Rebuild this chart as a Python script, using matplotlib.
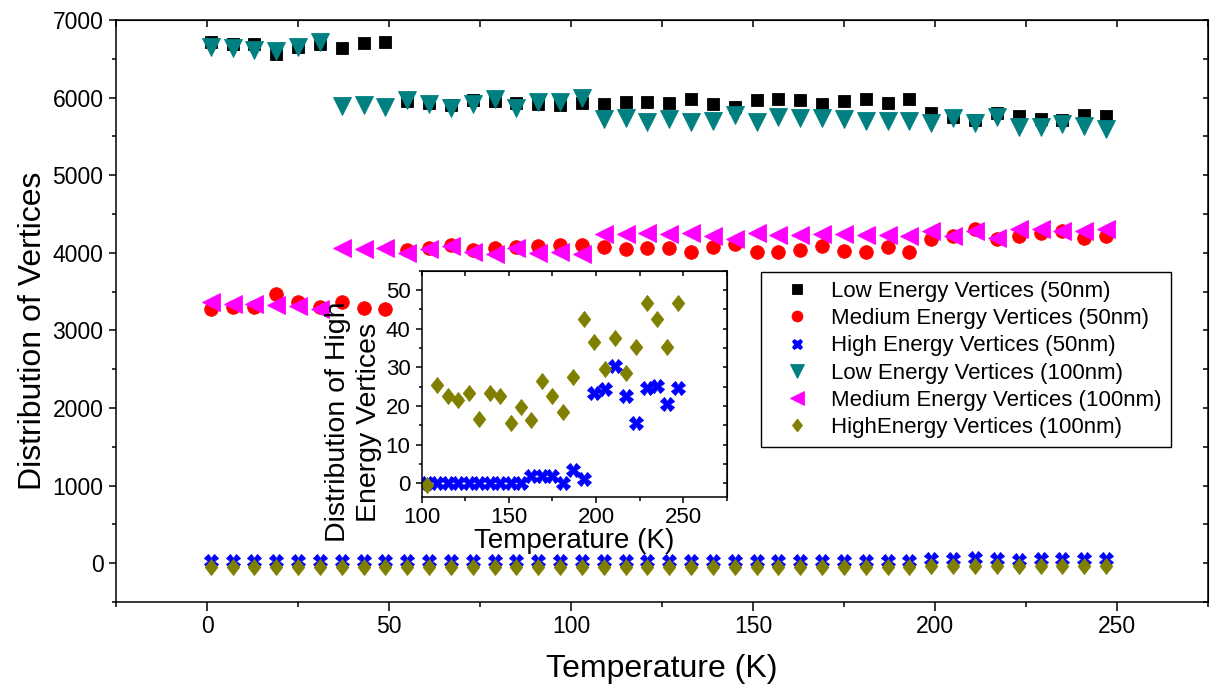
import matplotlib
matplotlib.use("Agg")
import matplotlib.pyplot as plt
from matplotlib.ticker import MultipleLocator
from matplotlib.path import Path

plt.rcParams['font.family'] = ['Liberation Sans', 'DejaVu Sans']

# ---- data -------------------------------------------------------------
temps = [1, 7, 13, 19, 25, 31, 37, 43, 49, 55, 61, 67, 73, 79, 85, 91, 97,
         103, 109, 115, 121, 127, 133, 139, 145, 151, 157, 163, 169, 175,
         181, 187, 193, 199, 205, 211, 217, 223, 229, 235, 241, 247]

low_50nm = [6720, 6695, 6690, 6560, 6655, 6695, 6640, 6700, 6715,
            5955, 5930, 5900, 5970, 5950, 5925, 5920, 5905, 5930,
            5915, 5940, 5940, 5930, 5985, 5920, 5880, 5975, 5985, 5975,
            5915, 5960, 5985, 5930, 5985, 5800, 5745, 5705, 5805, 5765,
            5720, 5710, 5780, 5760]

med_50nm = [3275, 3305, 3305, 3465, 3360, 3305, 3360, 3295, 3275,
            4035, 4065, 4100, 4040, 4060, 4070, 4090, 4100, 4100,
            4070, 4045, 4060, 4060, 4015, 4070, 4110, 4015, 4005, 4035,
            4090, 4025, 4015, 4070, 4005, 4175, 4220, 4305, 4175, 4220,
            4250, 4280, 4195, 4220]

high_50nm = [30, 30, 30, 30, 30, 30, 30, 30, 30, 30, 30, 30, 30, 30,
             30, 30, 30, 30, 30, 30, 30, 30, 30, 30, 30, 30, 30, 32,
             32, 32, 30, 34, 31, 55, 55, 65, 55, 45, 55, 55, 50, 55]

low_100nm = [6655, 6645, 6610, 6600, 6655, 6720,
             5890, 5910, 5880, 5970, 5915, 5865, 5920, 5980, 5870,
             5940, 5940, 5995,
             5720, 5740, 5685, 5725, 5685, 5700, 5770, 5685, 5745, 5740,
             5740, 5720, 5700, 5695, 5695, 5670, 5740, 5675, 5750, 5625,
             5615, 5655, 5640, 5600]

med_100nm = [3360, 3335, 3335, 3330, 3315, 3275,
             4065, 4045, 4065, 3995, 4050, 4090, 4010, 3990, 4060,
             4000, 4005, 3980,
             4240, 4240, 4260, 4240, 4260, 4220, 4175, 4260, 4230, 4230,
             4240, 4240, 4230, 4230, 4220, 4275, 4220, 4275, 4195, 4305,
             4305, 4280, 4280, 4305]

high_100nm = [-45, -45, -45, -45, -45, -45, -45, -45, -45, -45, -45,
              -45, -45, -45, -45, -45, -45, -45, -45, -45, -45, -45,
              -45, -45, -45, -45, -45, -45, -45, -45, -45, -45, -45,
              -40, -40, -40, -40, -40, -40, -40, -40, -40]

# high-energy vertices shown in the inset
inset_temps = [103, 109, 115, 121, 127, 133, 139, 145, 151, 157, 163, 169,
               175, 181, 187, 193, 199, 205, 211, 217, 223, 229, 235, 241,
               247]
inset_high_50nm = [0, 0, 0, 0, 0, 0, 0, 0, 0, 0, 2, 2, 2, 0, 3.5, 1,
                   23.4, 24.3, 30.3, 22.6, 15.5, 24.6, 25.2, 20.5, 24.6]
inset_high_100nm = [-0.5, 25.4, 22.6, 21.5, 23.4, 16.5, 23.4, 22.6, 15.5,
                    19.6, 16.4, 26.5, 22.6, 18.4, 27.6, 42.5, 36.6, 29.5,
                    37.5, 28.4, 35.3, 46.7, 42.4, 35.3, 46.7]

labels = ["Low Energy Vertices (50nm)",
          "Medium Energy Vertices (50nm)",
          "High Energy Vertices (50nm)",
          "Low Energy Vertices (100nm)",
          "Medium Energy Vertices (100nm)",
          "HighEnergy Vertices (100nm)"]

# ---- styles -----------------------------------------------------------
diamond = Path([(0, 1), (0.78, 0), (0, -1), (-0.78, 0), (0, 1)],
               [Path.MOVETO, Path.LINETO, Path.LINETO, Path.LINETO,
                Path.CLOSEPOLY])

BLACK, RED, BLUE = "#000000", "#FF0000", "#0000FF"
TEAL, MAGENTA, OLIVE = "#008080", "#FF00FF", "#808000"


def style_axes(a, xmaj, xmin, ymaj, ymin, fs, lens):
    a.xaxis.set_major_locator(MultipleLocator(xmaj))
    a.xaxis.set_minor_locator(MultipleLocator(xmin))
    a.yaxis.set_major_locator(MultipleLocator(ymaj))
    a.yaxis.set_minor_locator(MultipleLocator(ymin))
    for s in a.spines.values():
        s.set_linewidth(1.1)
    a.tick_params(axis='x', which='major', direction='out', length=lens[0],
                  width=1.1, labelsize=fs, pad=3)
    a.tick_params(axis='x', which='minor', direction='out', length=lens[1],
                  width=1.1)
    a.tick_params(axis='y', which='major', direction='out', length=lens[2],
                  width=1.1, labelsize=fs, pad=4)
    a.tick_params(axis='y', which='minor', direction='out', length=lens[3],
                  width=1.1)
    # inward ticks on the top and right sides
    top = a.secondary_xaxis('top')
    top.xaxis.set_major_locator(MultipleLocator(xmaj))
    top.xaxis.set_minor_locator(MultipleLocator(xmin))
    top.tick_params(which='both', direction='in', length=lens[4], width=1.1,
                    labeltop=False)
    right = a.secondary_yaxis('right')
    right.yaxis.set_major_locator(MultipleLocator(ymaj))
    right.yaxis.set_minor_locator(MultipleLocator(ymin))
    right.tick_params(which='both', direction='in', length=lens[5],
                      width=1.1, labelright=False)


fig = plt.figure(figsize=(12.1, 6.96), dpi=100)

# ---- main axes --------------------------------------------------------
ax = fig.add_axes([0.0959, 0.135, 0.9024, 0.8363])
ax.set_xlim(-25, 275)
ax.set_ylim(-500, 7000)
style_axes(ax, 50, 25, 1000, 500, 16.5, (6.5, 3.6, 5, 3, 5, 3.5))

kw = dict(ls='none', markeredgewidth=0.6)
ax.plot(temps, low_50nm, marker='s', ms=9.3, color=BLACK, label=labels[0], **kw)
ax.plot(temps, med_50nm, marker='o', ms=9.8, color=RED, label=labels[1], **kw)
ax.plot(temps, high_50nm, marker='X', ms=9.5, color=BLUE, label=labels[2], **kw)
ax.plot(temps, low_100nm, marker='v', ms=13, color=TEAL, label=labels[3], **kw)
ax.plot(temps, med_100nm, marker='<', ms=13, color=MAGENTA, label=labels[4], **kw)
ax.plot(temps, high_100nm, marker=diamond, ms=11.5, color=OLIVE, label=labels[5], **kw)

ax.set_xlabel("Temperature (K)", fontsize=23, labelpad=11)
ax.set_ylabel("Distribution of Vertices", fontsize=23)
ax.yaxis.set_label_coords(-0.062, 0.466)

leg = ax.legend(loc='upper left', bbox_to_anchor=(761 / 1210, 1 - 271.7 / 696),
                bbox_transform=fig.transFigure, borderaxespad=0,
                fontsize=16, frameon=True, fancybox=False, framealpha=1,
                edgecolor='black', borderpad=0.42, handlelength=2.4,
                handletextpad=0.35, labelspacing=0.28, markerscale=0.8)
leg.get_frame().set_linewidth(1.0)

# ---- inset ------------------------------------------------------------
axi = fig.add_axes([0.3485, 0.2862, 0.2521, 0.3250])
axi.set_xlim(100, 275)
axi.set_ylim(-3.5, 55)
style_axes(axi, 50, 25, 10, 5, 16, (4.5, 3, 4, 2.5, 3.5, 3))
axi.plot(inset_temps, inset_high_50nm, marker='X', ms=9.5, color=BLUE, **kw)
axi.plot(inset_temps, inset_high_100nm, marker=diamond, ms=11.5, color=OLIVE, **kw)
axi.set_xlabel("Temperature (K)", fontsize=20, labelpad=0)
axi.text(-0.225, 0.33, "Distribution of High\nEnergy Vertices",
         transform=axi.transAxes, rotation=90, ha='center', va='center',
         fontsize=20.5, multialignment='center', linespacing=1.25)

fig.savefig("out.png", dpi=100)
